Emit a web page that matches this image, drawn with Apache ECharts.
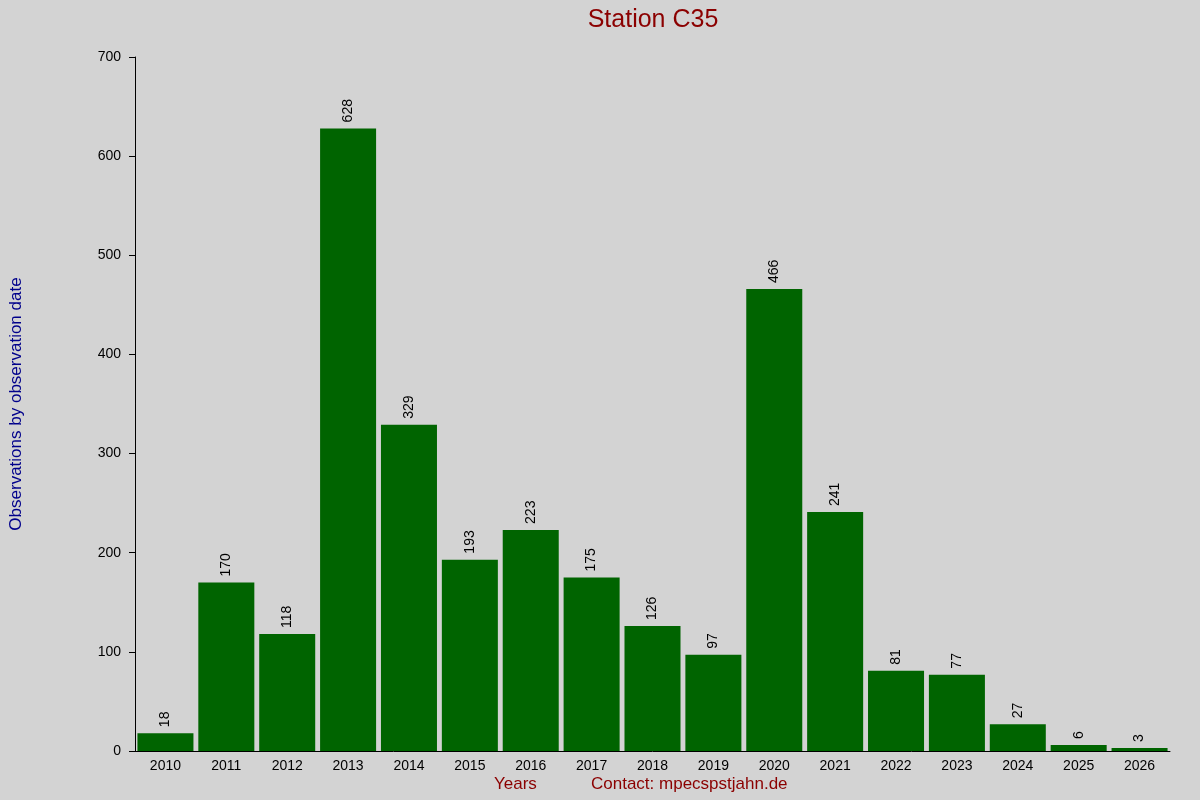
<!DOCTYPE html>
<html><head><meta charset="utf-8">
<script src="https://cdn.jsdelivr.net/npm/echarts@6/dist/echarts.min.js"></script>
<style>html,body{margin:0;padding:0;background:#d3d3d3}#c{width:1200px;height:800px}</style>
</head><body><div id="c"></div>
<script>
const categories = ['2010','2011','2012','2013','2014','2015','2016','2017','2018','2019','2020','2021','2022','2023','2024','2025','2026'];
const values = [18,170,118,628,329,193,223,175,126,97,466,241,81,77,27,6,3];
const chart = echarts.init(document.getElementById('c'));
chart.setOption({
  backgroundColor: '#d3d3d3',
  animation: false,
  title: { text: 'Station C35', left: 648, top: 3, textAlign: 'center',
    textStyle: { color: '#8b0000', fontSize: 25, fontWeight: 'normal', fontFamily: 'Liberation Sans' } },
  grid: { left: 126, right: 30, top: 57, bottom: 49 },
  xAxis: { type: 'category', data: categories,
    axisLine: { lineStyle: { color: '#000' } }, axisTick: { show: false },
    axisLabel: { color: '#000', fontSize: 14, fontFamily: 'Liberation Sans', margin: 8 } },
  yAxis: { type: 'value', min: 0, max: 700, interval: 100,
    name: 'Observations by observation date', nameLocation: 'middle', nameGap: 110, nameRotate: 90,
    nameTextStyle: { color: '#00008b', fontSize: 17, fontFamily: 'Liberation Sans' },
    axisLine: { show: true, lineStyle: { color: '#000' } },
    axisTick: { show: true, length: 6, lineStyle: { color: '#000' } },
    splitLine: { show: false },
    axisLabel: { color: '#000', fontSize: 14, fontFamily: 'Liberation Sans', margin: 14 } },
  graphic: [
    { type: 'text', left: 494, top: 776, style: { text: 'Years', fill: '#8b0000', fontSize: 17, fontFamily: 'Liberation Sans' } },
    { type: 'text', left: 591, top: 776, style: { text: 'Contact: mpecspstjahn.de', fill: '#8b0000', fontSize: 17, fontFamily: 'Liberation Sans' } }
  ],
  series: [{ type: 'bar', data: values, barCategoryGap: '8%',
    itemStyle: { color: '#006400' },
    label: { show: true, position: 'top', rotate: 90, align: 'left', verticalAlign: 'middle', distance: 6,
      color: '#000', fontSize: 14, fontFamily: 'Liberation Sans' } }]
});
</script></body></html>
